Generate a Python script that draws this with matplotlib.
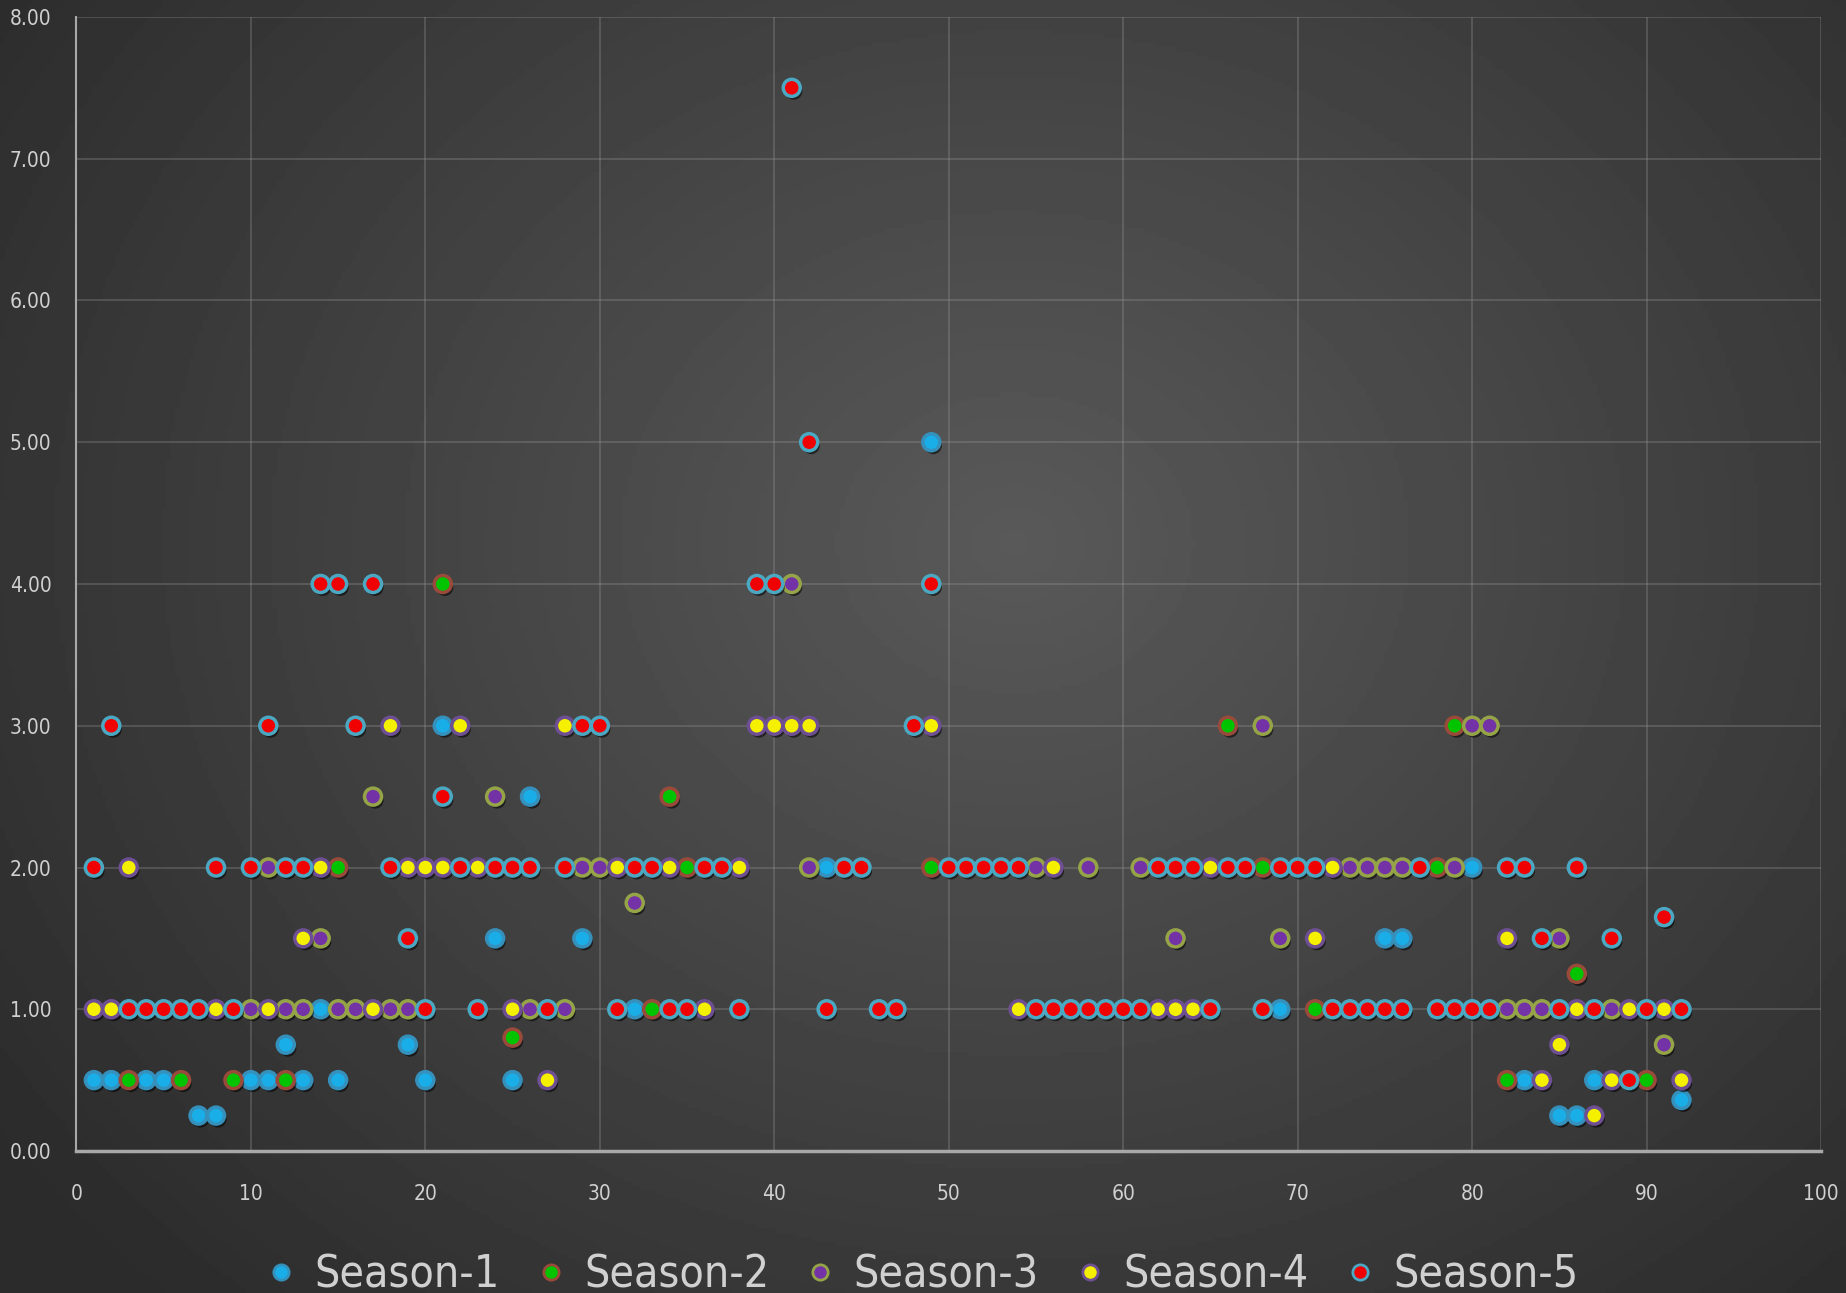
import numpy as np
import matplotlib
matplotlib.use("Agg")
import matplotlib.pyplot as plt
import matplotlib.patheffects as pe
from matplotlib import font_manager
from matplotlib.lines import Line2D

# narrow look like the original; use the condensed DejaVu face if it is installed
has_cond = any(f.name == "DejaVu Sans" and "condensed" in str(f.stretch)
               for f in font_manager.fontManager.ttflist)
plt.rcParams["font.family"] = ["DejaVu Sans"]
if has_cond:
    plt.rcParams["font.stretch"] = "condensed"
    tick_size, legend_size = 15, 32
else:
    tick_size, legend_size = 13, 27

# visible points per season: y value -> episode numbers
season1 = {
    0.25: [7, 8, 85, 86],
    0.36: [92],
    0.5: [1, 2, 4, 5, 10, 11, 13, 15, 20, 25, 83, 87],
    0.75: [12, 19],
    1.0: [14, 32, 69],
    1.5: [24, 29, 75, 76],
    2.0: [43, 80],
    2.5: [26],
    3.0: [21],
    5.0: [49],
}
season2 = {
    0.5: [3, 6, 9, 12, 82, 90],
    0.8: [25],
    1.0: [33, 71],
    1.25: [86],
    2.0: [15, 35, 49, 68, 78],
    2.5: [34],
    3.0: [66, 79],
    4.0: [21],
}
season3 = {
    0.75: [91],
    1.0: [10, 12, 13, 15, 16, 18, 19, 26, 28, 82, 83, 84, 88],
    1.5: [14, 63, 69, 85],
    1.75: [32],
    2.0: [11, 29, 30, 42, 55, 58, 61, 73, 74, 75, 76, 79],
    2.5: [17, 24],
    3.0: [68, 80, 81],
    4.0: [41],
}
season4 = {
    0.25: [87],
    0.5: [27, 84, 88, 92],
    0.75: [85],
    1.0: [1, 2, 8, 11, 17, 25, 36, 54, 62, 63, 64, 86, 89, 91],
    1.5: [13, 71, 82],
    2.0: [3, 14, 19, 20, 21, 23, 31, 34, 38, 56, 65, 72],
    3.0: [18, 22, 28, 39, 40, 41, 42, 49],
}
season5 = {
    0.5: [89],
    1.0: [3, 4, 5, 6, 7, 9, 20, 23, 27, 31, 34, 35, 38, 43, 46, 47, 55, 56, 57,
          58, 59, 60, 61, 65, 68, 72, 73, 74, 75, 76, 78, 79, 80, 81, 85, 87, 90, 92],
    1.5: [19, 84, 88],
    1.65: [91],
    2.0: [1, 8, 10, 12, 13, 18, 22, 24, 25, 26, 28, 32, 33, 36, 37, 44, 45, 50,
          51, 52, 53, 54, 62, 63, 64, 66, 67, 69, 70, 71, 77, 82, 83, 86],
    2.5: [21],
    3.0: [2, 11, 16, 29, 30, 48],
    4.0: [14, 15, 17, 39, 40, 49],
    5.0: [42],
    7.5: [41],
}

names = ["Season-1", "Season-2", "Season-3", "Season-4", "Season-5"]
seasons = [season1, season2, season3, season4, season5]
fills = ["#1aaee8", "#00c400", "#7332a6", "#f4f000", "#f00000"]
edges = ["#3590bb", "#9a4a3a", "#96a448", "#6e4f94", "#4aa8c2"]

fig = plt.figure(figsize=(18.46, 12.93), dpi=100)

# background radial gradient
bg = fig.add_axes([0, 0, 1, 1], zorder=-10)
yy, xx = np.mgrid[0:1:300j, 0:1:400j]
r = np.sqrt(((xx - 0.55) / 0.75) ** 2 + ((yy - 0.42) / 0.9) ** 2)
shade = np.clip(0.35 - 0.2 * r, 0.17, 0.36)
bg.imshow(shade, cmap="gray", vmin=0, vmax=1, aspect="auto", extent=[0, 1, 0, 1])
bg.axis("off")

ax = fig.add_axes([0.0414, 0.1098, 0.9451, 0.8771])
ax.set_facecolor("none")

shadow = [pe.SimplePatchShadow(offset=(1.5, -2.5), shadow_rgbFace="black", alpha=0.55), pe.Normal()]

handles = []
for k, (name, data) in enumerate(zip(names, seasons)):
    xs = []
    ys = []
    for yv, xl in data.items():
        xs += xl
        ys += [yv] * len(xl)
    sc = ax.scatter(xs, ys, s=150, c=fills[k], edgecolors=edges[k], linewidths=2.5,
                    zorder=3 + k)
    sc.set_path_effects(shadow)
    handles.append(Line2D([], [], linestyle="none", marker="o", markersize=11,
                          markerfacecolor=fills[k], markeredgecolor=edges[k],
                          markeredgewidth=2.0, label=name))

ax.set_xlim(0, 100)
ax.set_ylim(0, 8)
ax.set_xticks(np.arange(0, 101, 10))
ax.set_yticks(np.arange(0, 8.01, 1))
ax.yaxis.set_major_formatter(matplotlib.ticker.FormatStrFormatter("%.2f"))
ax.grid(True, color="#9a9a9a", alpha=0.35, linewidth=1.2)
ax.set_axisbelow(True)
for s in ["top", "right"]:
    ax.spines[s].set_visible(False)
ax.spines["left"].set_color("#a8a8a8")
ax.spines["left"].set_linewidth(1.5)
ax.spines["bottom"].set_color("#a8a8a8")
ax.spines["bottom"].set_linewidth(2.5)
ax.tick_params(length=0, colors="#d0d0d0", labelsize=tick_size)
ax.tick_params(axis="x", pad=24)
ax.tick_params(axis="y", pad=18)

leg = fig.legend(handles=handles, loc="lower center", bbox_to_anchor=(0.5, -0.02), ncol=5,
                 frameon=False, fontsize=legend_size, handlelength=0.6, handletextpad=0.45,
                 columnspacing=0.85, borderaxespad=0.1)
for t in leg.get_texts():
    t.set_color("#d0d0d0")

fig.savefig("out.png", dpi=100)
